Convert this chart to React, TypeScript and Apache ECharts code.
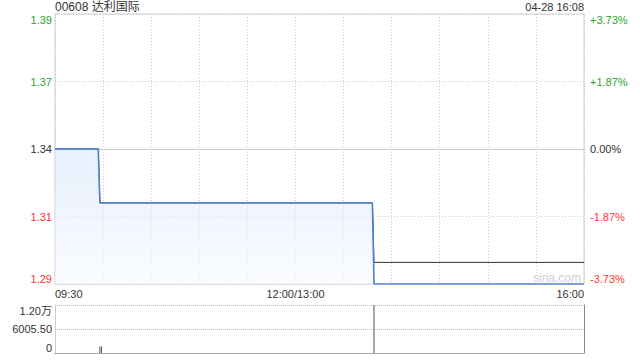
import React, { useEffect, useRef } from "react";
import * as echarts from "echarts";

const title = "00608 达利国际";
const timestamp = "04-28 16:08";
const prevClose = 1.34;
const maxPct = 3.7313;
const priceTickLabels = ["1.29", "1.31", "1.34", "1.37", "1.39"];
const pctTickLabels = ["-3.73%", "-1.87%", "0.00%", "+1.87%", "+3.73%"];
const timeLabels: Record<number, string> = { 0: "09:30", 150: "12:00/13:00", 330: "16:00" };
// [minute index since 09:30 (lunch removed), price]
const priceData: [number, number][] = [
  [0, 1.34], [27, 1.34], [28, 1.32], [198, 1.32], [199, 1.29], [330, 1.29],
];
const avgData: [number, number][] = [
  [0, 1.34], [27, 1.34], [28, 1.32], [198, 1.32], [199, 1.298], [330, 1.298],
];
const volumeData: [number, number][] = [
  [28, 1600], [29, 1600], [199, 12011],
];
const volumeMax = 12011;

const FONT = "'Liberation Sans', Arial, 'Noto Sans CJK SC', sans-serif";
const GREEN = "#2aa52a";
const RED = "#ff3333";
const toPct = (p: number) => (p / prevClose - 1) * 100;

export default function App() {
  const ref = useRef<HTMLDivElement>(null);
  useEffect(() => {
    if (!ref.current) return;
    const chart = echarts.init(ref.current, null, { renderer: "svg" });
    const step = maxPct / 2;
    const idx = (v: number) => Math.round(v / step) + 2;
    const colorFor = (v: number) => (Math.abs(v) < 1e-6 ? "#333" : v > 0 ? GREEN : RED);
    chart.setOption({
      animation: false,
      textStyle: { fontFamily: FONT },
      graphic: [
        { type: "text", left: 55, top: 1, style: { text: title, fontSize: 12, fill: "#333", fontFamily: FONT } },
        { type: "text", right: 56, top: 1, style: { text: timestamp, fontSize: 11, fill: "#333", fontFamily: FONT } },
        { type: "text", right: 59, top: 272, style: { text: "sina.com", fontSize: 12, fill: "#cfcfcf", fontFamily: FONT } },
      ],
      grid: [
        { left: 55, right: 56, top: 14, height: 270, show: true, borderColor: "#ccc", borderWidth: 1, backgroundColor: "transparent" },
        { left: 55, right: 56, top: 305, height: 48 },
      ],
      xAxis: [
        {
          type: "value", gridIndex: 0, min: 0, max: 330, interval: 30,
          axisLine: { show: true, lineStyle: { color: "#ccc" } },
          axisTick: { show: false },
          splitLine: { show: true, lineStyle: { color: "#ccc", type: [1, 2] } },
          axisLabel: {
            color: "#333", fontSize: 11, margin: 4,
            alignMinLabel: "left", alignMaxLabel: "right",
            formatter: (v: number) => timeLabels[v] ?? "",
          },
        },
        {
          type: "value", gridIndex: 1, min: 0, max: 330, interval: 30,
          axisLine: { show: true, lineStyle: { color: "#999", type: [1, 1] } },
          axisTick: { show: false }, axisLabel: { show: false }, splitLine: { show: false },
        },
      ],
      yAxis: [
        {
          type: "value", gridIndex: 0, min: -maxPct, max: maxPct, interval: step,
          axisLine: { show: false }, axisTick: { show: false },
          splitLine: { show: true, lineStyle: { color: "#ccc", type: [1, 2] } },
          axisLabel: {
            fontSize: 11, margin: 3,
            verticalAlignMinLabel: "bottom", verticalAlignMaxLabel: "top",
            formatter: (v: number) => priceTickLabels[idx(v)] ?? "",
            color: (v: number) => colorFor(v),
          },
        },
        {
          type: "value", gridIndex: 0, position: "right", min: -maxPct, max: maxPct, interval: step,
          axisLine: { show: false }, axisTick: { show: false }, splitLine: { show: false },
          axisLabel: {
            fontSize: 11, margin: 6,
            verticalAlignMinLabel: "bottom", verticalAlignMaxLabel: "top",
            formatter: (v: number) => pctTickLabels[idx(v)] ?? "",
            color: (v: number) => colorFor(v),
          },
        },
        {
          type: "value", gridIndex: 1, min: 0, max: volumeMax, interval: volumeMax / 2,
          axisLine: { show: true, lineStyle: { color: "#ccc" } }, axisTick: { show: false },
          splitLine: { show: true, lineStyle: { color: "#bbb", type: [1, 1] } },
          axisLabel: {
            fontSize: 11, margin: 3, color: "#333",
            verticalAlignMinLabel: "bottom", verticalAlignMaxLabel: "top",
            formatter: (v: number) => (v === 0 ? "0" : v >= 10000 ? (v / 10000).toFixed(2) + "万" : v.toFixed(2)),
          },
        },
        {
          type: "value", gridIndex: 1, position: "right", min: 0, max: volumeMax,
          axisLine: { show: true, lineStyle: { color: "#888" } }, axisTick: { show: false },
          axisLabel: { show: false }, splitLine: { show: false },
        },
      ],
      series: [
        {
          type: "line", xAxisIndex: 0, yAxisIndex: 0, z: 2,
          data: avgData.map(([m, p]) => [m, toPct(p)]),
          showSymbol: false, symbol: "none",
          lineStyle: { color: "#333", width: 1 },
        },
        {
          type: "line", xAxisIndex: 0, yAxisIndex: 0, z: 3,
          data: priceData.map(([m, p]) => [m, toPct(p)]),
          showSymbol: false, symbol: "none",
          lineStyle: { color: "#4d7fd2", width: 1.6 },
          areaStyle: {
            origin: "start",
            color: new echarts.graphic.LinearGradient(0, 0, 0, 1, [
              { offset: 0, color: "rgba(220,232,251,0.95)" },
              { offset: 1, color: "rgba(246,249,255,0.9)" },
            ]),
          },
        },
        {
          type: "bar", xAxisIndex: 1, yAxisIndex: 2,
          data: volumeData,
          barWidth: 1,
          itemStyle: { color: "#555" },
        },
      ],
    });
    return () => chart.dispose();
  }, []);
  return <div ref={ref} style={{ width: 640, height: 360, position: "absolute", left: 0, top: 0 }} />;
}
